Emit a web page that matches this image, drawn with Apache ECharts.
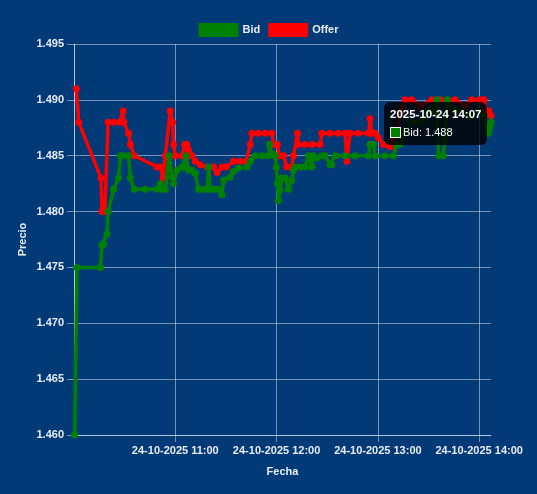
<!DOCTYPE html>
<html>
<head>
<meta charset="utf-8">
<script src="https://cdn.jsdelivr.net/npm/echarts@6/dist/echarts.min.js"></script>
<style>
  html, body { margin: 0; padding: 0; background: #013a77; }
  #chart { width: 537px; height: 494px; }
</style>
</head>
<body>
<div id="chart"></div>
<script>
// Times are minutes after midnight on 24-10-2025
var bidTimes = [600.4, 601.8, 615.6, 616.6, 617.6, 619.6, 620.2, 623.5, 626.4, 627.5, 629.8, 632.4, 633.4, 635.7, 642.2, 649.2, 651.1, 652.3, 654.1, 656.4, 658.0, 659.0, 661.0, 664.0, 664.9, 666.3, 667.9, 669.9, 671.8, 673.8, 676.0, 678.8, 679.7, 680.7, 683.1, 685.6, 687.6, 688.6, 692.5, 694.5, 697.5, 702.4, 704.4, 707.3, 711.5, 715.2, 715.8, 717.2, 719.2, 719.8, 720.5, 721.1, 722.1, 723.1, 725.1, 727.0, 729.0, 730.0, 731.0, 734.0, 736.9, 738.9, 740.9, 741.8, 743.8, 746.8, 748.8, 751.7, 752.7, 754.7, 760.6, 766.5, 774.4, 775.4, 777.3, 778.3, 784.2, 789.2, 791.2, 793.1, 796.1, 800.2, 805.0, 809.7, 813.2, 815.0, 815.9, 818.7, 819.8, 821.0, 825.7, 829.8, 834.5, 839.3, 842.8, 844.5, 845.4, 846.4, 847.0];
var bidValues = [1.460, 1.475, 1.475, 1.477, 1.4771, 1.478, 1.480, 1.482, 1.483, 1.485, 1.485, 1.485, 1.483, 1.482, 1.482, 1.482, 1.4825, 1.482, 1.482, 1.485, 1.4831, 1.4825, 1.4837, 1.484, 1.484, 1.485, 1.4837, 1.4837, 1.4834, 1.482, 1.482, 1.482, 1.484, 1.482, 1.482, 1.482, 1.4815, 1.4828, 1.4831, 1.4836, 1.4839, 1.484, 1.4845, 1.485, 1.485, 1.485, 1.486, 1.4852, 1.485, 1.484, 1.4825, 1.481, 1.4819, 1.483, 1.483, 1.482, 1.4828, 1.4837, 1.484, 1.484, 1.484, 1.485, 1.484, 1.485, 1.4848, 1.485, 1.485, 1.4842, 1.4842, 1.485, 1.485, 1.485, 1.485, 1.486, 1.486, 1.485, 1.485, 1.485, 1.486, 1.486, 1.487, 1.488, 1.488, 1.489, 1.489, 1.490, 1.485, 1.485, 1.4865, 1.490, 1.489, 1.489, 1.4885, 1.489, 1.4885, 1.4875, 1.487, 1.4875, 1.488];

var offerTimes = [601.4, 602.8, 616.0, 616.6, 618.2, 620.2, 623.5, 626.9, 629.1, 629.5, 632.4, 633.4, 635.7, 649.2, 651.1, 652.7, 654.1, 657.0, 658.4, 659.0, 660.0, 664.0, 665.5, 666.9, 667.9, 669.9, 671.8, 674.8, 678.9, 682.7, 684.7, 687.6, 690.2, 694.5, 698.5, 702.0, 704.4, 705.4, 709.1, 713.3, 717.2, 718.2, 720.5, 721.7, 724.1, 726.1, 729.0, 730.0, 732.4, 733.0, 736.9, 741.1, 745.8, 746.8, 751.7, 756.4, 760.6, 761.6, 763.5, 768.3, 774.4, 775.4, 776.4, 778.3, 780.3, 783.3, 787.2, 790.8, 793.7, 796.1, 800.0, 805.0, 811.9, 816.8, 825.7, 831.6, 835.6, 840.5, 842.8, 844.4, 845.8, 847.0];
var offerValues = [1.491, 1.488, 1.483, 1.480, 1.480, 1.488, 1.488, 1.488, 1.489, 1.488, 1.487, 1.486, 1.485, 1.484, 1.484, 1.483, 1.485, 1.489, 1.488, 1.486, 1.485, 1.485, 1.486, 1.486, 1.4855, 1.485, 1.4845, 1.4842, 1.484, 1.484, 1.4835, 1.484, 1.484, 1.4845, 1.4845, 1.4845, 1.486, 1.487, 1.487, 1.487, 1.487, 1.486, 1.486, 1.485, 1.485, 1.484, 1.484, 1.485, 1.487, 1.486, 1.486, 1.486, 1.486, 1.487, 1.487, 1.487, 1.487, 1.4845, 1.487, 1.487, 1.487, 1.4883, 1.487, 1.487, 1.4866, 1.486, 1.4858, 1.487, 1.489, 1.490, 1.490, 1.4895, 1.490, 1.490, 1.490, 1.4895, 1.490, 1.490, 1.490, 1.489, 1.489, 1.4886];

var yTicks = [1.460, 1.465, 1.470, 1.475, 1.480, 1.485, 1.490, 1.495];
var xTickMinutes = [660, 720, 780, 840];
var datePrefix = '24-10-2025';
var tooltipDate = '2025-10-24';

function pad(n) { return (n < 10 ? '0' : '') + n; }
function hhmm(m) { var t = Math.floor(m + 0.0001); return pad(Math.floor(t / 60)) + ':' + pad(t % 60); }
function zip(a, b) { return a.map(function (t, i) { return [t, b[i]]; }); }

var FONT = 'Liberation Sans, Arial, Helvetica, sans-serif';
var TXT = '#e8ecf2';
var GRID = 'rgba(255,255,255,0.45)';

var chart = echarts.init(document.getElementById('chart'), null, { renderer: 'canvas' });
chart.setOption({
  animation: false,
  backgroundColor: '#013a77',
  textStyle: { fontFamily: FONT },
  legend: {
    data: ['Bid', 'Offer'],
    left: 'center', top: 18,
    icon: 'rect', itemWidth: 40, itemHeight: 14, itemGap: 8,
    textStyle: { color: TXT, fontSize: 11, fontWeight: 'bold', fontFamily: FONT, padding: [0, 0, 0, -1] }
  },
  grid: { left: 74, right: 46, top: 44, bottom: 59, containLabel: false },
  tooltip: {
    trigger: 'item', triggerOn: 'none', alwaysShowContent: true,
    transitionDuration: 0,
    position: [384, 102],
    backgroundColor: 'rgba(0,0,0,0.8)', borderWidth: 0, padding: [6, 6, 6, 6],
    extraCssText: 'border-radius:6px;box-shadow:none;',
    formatter: function (p) {
      return '<div style="font:bold 11.5px ' + FONT + ';color:#fff;line-height:13px;margin-bottom:5px;">' +
        tooltipDate + ' ' + hhmm(p.value[0]) + '</div>' +
        '<div style="display:flex;align-items:center;font:11px ' + FONT + ';color:#fff;line-height:13px;">' +
        '<span style="display:inline-block;width:9px;height:9px;background:#008000;border:1px solid #fff;margin-right:2px;"></span>' +
        p.seriesName + ': ' + p.value[1].toFixed(3) + '</div>';
    }
  },
  xAxis: {
    type: 'value', min: 600, max: 847, interval: 60,
    name: 'Fecha', nameLocation: 'middle', nameGap: 31,
    nameTextStyle: { color: TXT, fontSize: 11, fontWeight: 'bold', fontFamily: FONT },
    axisLine: { show: true, lineStyle: { color: GRID, width: 1 } },
    axisTick: { show: true, length: 7, lineStyle: { color: GRID } },
    splitLine: { show: true, showMaxLine: false, lineStyle: { color: GRID, width: 1 } },
    axisLabel: {
      color: TXT, fontSize: 11, fontWeight: 'bold', fontFamily: FONT, margin: 10,
      showMinLabel: false, showMaxLabel: false, hideOverlap: false,
      formatter: function (v) { return xTickMinutes.indexOf(v) >= 0 ? datePrefix + ' ' + hhmm(v) : ''; }
    }
  },
  yAxis: {
    type: 'value', min: yTicks[0], max: yTicks[yTicks.length - 1], interval: 0.005,
    name: 'Precio', nameLocation: 'middle', nameGap: 46, nameMoveOverlap: false,
    nameTextStyle: { color: TXT, fontSize: 11, fontWeight: 'bold', fontFamily: FONT },
    axisLine: { show: true, lineStyle: { color: GRID, width: 1 } },
    axisTick: { show: true, length: 7, lineStyle: { color: GRID } },
    splitLine: { show: true, lineStyle: { color: GRID, width: 1 } },
    axisLabel: {
      color: TXT, fontSize: 11, fontWeight: 'bold', fontFamily: FONT, margin: 10,
      formatter: function (v) { return v.toFixed(3); }
    }
  },
  series: [
    {
      name: 'Bid', type: 'line', z: 3,
      data: zip(bidTimes, bidValues),
      color: '#008000',
      lineStyle: { color: '#008000', width: 3.5 },
      itemStyle: { color: '#008000', borderWidth: 0 },
      symbol: 'circle', symbolSize: 7, showSymbol: true, showAllSymbol: true,
      emphasis: { disabled: true }
    },
    {
      name: 'Offer', type: 'line', z: 2,
      data: zip(offerTimes, offerValues),
      color: '#ff0000',
      lineStyle: { color: '#ff0000', width: 3.5 },
      itemStyle: { color: '#ff0000', borderWidth: 0 },
      symbol: 'circle', symbolSize: 7, showSymbol: true, showAllSymbol: true,
      emphasis: { disabled: true }
    }
  ]
});
chart.dispatchAction({ type: 'showTip', seriesIndex: 0, dataIndex: bidTimes.length - 1 });
</script>
</body>
</html>
